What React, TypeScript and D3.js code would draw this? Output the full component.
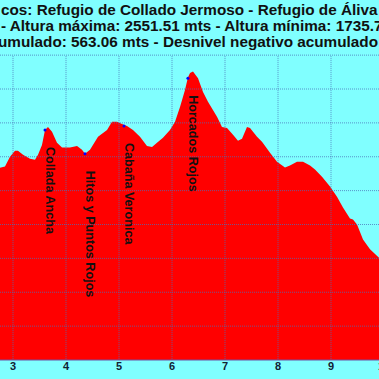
import React from "react";
import * as d3 from "d3";

const distKm = [2.74, 2.849, 2.943, 3.038, 3.094, 3.189, 3.321, 3.415, 3.472, 3.547, 3.604, 3.66, 3.736, 3.83, 3.925, 4.075, 4.208, 4.302, 4.358, 4.453, 4.604, 4.774, 4.868, 4.962, 5.057, 5.151, 5.264, 5.396, 5.528, 5.623, 5.717, 5.83, 5.962, 6.057, 6.151, 6.245, 6.302, 6.34, 6.396, 6.491, 6.585, 6.679, 6.849, 6.943, 7.038, 7.151, 7.245, 7.321, 7.415, 7.472, 7.604, 7.698, 7.849, 7.981, 8.132, 8.226, 8.358, 8.472, 8.604, 8.698, 8.83, 8.981, 9.113, 9.226, 9.358, 9.415, 9.491, 9.604, 9.736, 9.92];
const altitude = [2267, 2271, 2300, 2318, 2318, 2306, 2294, 2291, 2306, 2335, 2379, 2388, 2374, 2341, 2327, 2327, 2332, 2321, 2309, 2321, 2359, 2379, 2403, 2403, 2397, 2391, 2379, 2359, 2332, 2329, 2341, 2356, 2379, 2403, 2447, 2497, 2535, 2547, 2551.5, 2532, 2491, 2462, 2418, 2388, 2385, 2365, 2347, 2353, 2388, 2385, 2359, 2344, 2312, 2285, 2268, 2274, 2285, 2285, 2274, 2262, 2241, 2212, 2182, 2150, 2118, 2115, 2100, 2056, 2027, 2000];

const waypointNames = ["Collada Ancha", "Hitos y Puntos Rojos", "Cabaña Veronica", "Horcados Rojos"];
const waypointKm = [3.604, 4.358, 5.094, 6.3];
const waypointAlt = [2379, 2309, 2391, 2532];

const xTicks = [3, 4, 5, 6, 7, 8, 9, 10];
const yTicks = [1800, 1900, 2000, 2100, 2200, 2300, 2400, 2500, 2600];

const titleLines = [
  "cos: Refugio de Collado Jermoso - Refugio de Áliva",
  "- Altura máxima: 2551.51 mts - Altura mínima: 1735.7",
  "umulado: 563.06 mts - Desnivel negativo acumulado",
];
const titleX = [1, 1, -2];

export default function App() {
  const W = 379, H = 379;
  const x = d3.scaleLinear().domain([3, 9]).range([13, 331]);
  const y = d3.scaleLinear().domain([1700, 2500]).range([360, 89]);
  const pts = distKm.map((d, i) => [d, altitude[i]] as [number, number]);
  const area = d3.area<[number, number]>()
    .x(d => x(d[0]))
    .y0(y(1700))
    .y1(d => y(d[1]))
    .curve(d3.curveLinear)(pts) || "";
  const gridTop = y(2600) + 1;
  return (
    <svg width={W} height={H} style={{ position: "absolute", left: 0, top: 0 }}
      fontFamily="'Liberation Sans', Arial, sans-serif">
      <rect x={0} y={0} width={W} height={H} fill="#80ffff" />
      <path d={area} fill="#ff0000" />
      {xTicks.map(t => (
        <line key={"vx" + t} x1={x(t)} x2={x(t)} y1={gridTop} y2={y(1700)}
          stroke="#4a70b8" strokeOpacity={0.75} strokeWidth={1} strokeDasharray="1 1" />
      ))}
      {yTicks.map(t => (
        <line key={"hy" + t} x1={0} x2={W} y1={y(t)} y2={y(t)}
          stroke="#4a70b8" strokeOpacity={0.75} strokeWidth={1} strokeDasharray="1 1" />
      ))}
      <line x1={0} x2={W} y1={y(1700)} y2={y(1700)} stroke="#7050a0" strokeWidth={1} />
      {xTicks.map(t => (
        <text key={"xl" + t} x={x(t)} y={370} textAnchor="middle" fontSize={11}
          fontWeight="bold" fill="#112233">{t}</text>
      ))}
      {waypointNames.map((n, i) => (
        <g key={n}>
          <circle cx={x(waypointKm[i])} cy={y(waypointAlt[i])} r={1.5} fill="#0000ff" />
          <text transform={`translate(${x(waypointKm[i]) + 1},${y(waypointAlt[i]) + 17}) rotate(90)`}
            fontSize={12.6} fontWeight="bold" fill="#111">{n}</text>
        </g>
      ))}
      {titleLines.map((t, i) => (
        <text key={i} x={titleX[i]} y={15 + i * 16} fontSize={15.3} fontWeight="bold" fill="#111">{t}</text>
      ))}
    </svg>
  );
}
